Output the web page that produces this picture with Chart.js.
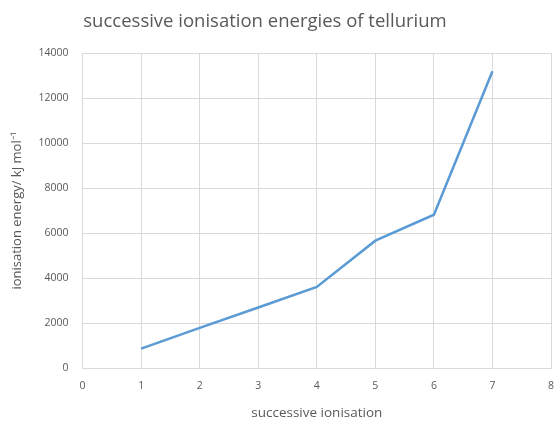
<!DOCTYPE html>
<html>
<head>
<meta charset="utf-8">
<script src="https://cdn.jsdelivr.net/npm/chart.js@4/dist/chart.umd.min.js"></script>
<style>
  html, body { margin: 0; padding: 0; background: #ffffff; }
  #wrap { width: 555px; height: 421px; }
</style>
</head>
<body>
<div id="wrap"><canvas id="c" width="555" height="421"></canvas></div>
<script>
// Successive ionisation energies of tellurium (kJ mol⁻¹)
const ionisations = [1, 2, 3, 4, 5, 6, 7];
const energies = [869, 1790, 2698, 3610, 5668, 6820, 13200];
const xTicks = [0, 1, 2, 3, 4, 5, 6, 7, 8];
const yTicks = [0, 2000, 4000, 6000, 8000, 10000, 12000, 14000];

const grey = '#595959';
const gridGrey = '#d9d9d9';

// Nudge the title block so the heading sits slightly left of the canvas centre
const titleShift = {
  id: 'titleShift',
  afterLayout(chart) {
    const tb = chart.titleBlock;
    if (tb) { tb.left -= 15; tb.right -= 15; }
  }
};

new Chart(document.getElementById('c'), {
  type: 'scatter',
  data: {
    datasets: [{
      data: ionisations.map((x, i) => ({ x: x, y: energies[i] })),
      showLine: true,
      borderColor: '#5b9bd5',
      borderWidth: 2.5,
      pointRadius: 0,
      tension: 0
    }]
  },
  plugins: [titleShift],
  options: {
    responsive: false,
    animation: false,
    devicePixelRatio: 1,
    layout: { padding: { left: 5, right: 0, top: 9, bottom: 0 } },
    plugins: {
      legend: { display: false },
      tooltip: { enabled: false },
      title: {
        display: true,
        text: 'successive ionisation energies of tellurium',
        color: grey,
        font: { family: 'Open Sans', size: 18.5, weight: 'normal' },
        padding: { top: 2, bottom: 20 }
      }
    },
    scales: {
      x: {
        type: 'linear',
        min: 0, max: 8,
        afterBuildTicks: s => { s.ticks = xTicks.map(v => ({ value: v })); },
        afterFit: s => { s.paddingRight = 4; },
        grid: { color: gridGrey, drawTicks: false },
        border: { color: gridGrey },
        ticks: {
          color: grey, font: { family: 'Open Sans', size: 10.5 }, padding: 12,
          callback: v => String(v)
        },
        title: {
          display: true,
          text: 'successive ionisation',
          color: grey,
          font: { family: 'Open Sans', size: 13.5 },
          padding: { top: 0, bottom: 0 }
        }
      },
      y: {
        min: 0, max: 14000,
        afterBuildTicks: s => { s.ticks = yTicks.map(v => ({ value: v })); },
        grid: { color: gridGrey, drawTicks: false },
        border: { color: gridGrey },
        ticks: {
          color: grey, font: { family: 'Open Sans', size: 10.5 }, padding: 14,
          callback: v => String(v)
        },
        title: {
          display: true,
          text: 'ionisation energy/ kJ mol⁻¹',
          color: grey,
          font: { family: 'Open Sans', size: 13 },
          padding: { bottom: 0 }
        }
      }
    }
  }
});
</script>
</body>
</html>
